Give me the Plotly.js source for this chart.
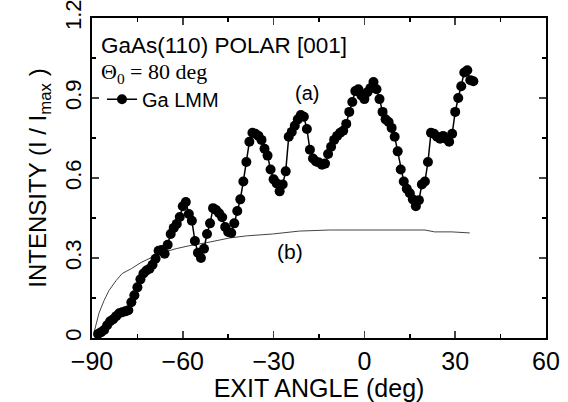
<!DOCTYPE html>
<html>
<head>
<meta charset="utf-8">
<script src="https://cdn.plot.ly/plotly-3.0.1.min.js"></script>
<style>html,body{margin:0;padding:0;background:#fff;}#chart{width:568px;height:402px;}</style>
</head>
<body>
<div id="chart"></div>
<script>
// Series (a): Ga LMM measured intensity, exit angle in degrees
const angleA = [-88,-87,-86,-85,-84,-83,-82,-81,-80,-79,-78,-77,-76,-75,-74,-73,-72,-71,-70,-69,-68,-67,-66,-65,
  -64,-63,-62,-61,-60,-59,-58,-57,-56,-55,-54,-53,-52,-51,-50,-49,-48,-47,-46,-45,-44,
  -43,-42,-41,-40,-39,-38,-37,-36,-35,-34,-33,-32,-31,-30,-29,-28,-27,-26,-25,
  -24,-23,-22,-21,-20,-19,-18,-17,-16,-15,-14,-13,-12,-11,-10,-9,-8,-7,-6,-5,-4,-3,
  -2,-1,0,1,2,3,4,5,6,7,8,9,10,11,12,13,14,15,16,17,18,19,20,21,22,23,24,25,26,27,28,29,30,31,32,33,34,35,36];
const intensityA = [0.015,0.022,0.03,0.048,0.063,0.07,0.082,0.093,0.097,0.10,0.104,0.134,0.16,0.19,0.22,0.242,0.253,0.26,0.275,0.297,0.327,0.33,0.316,0.35,
  0.39,0.413,0.428,0.454,0.494,0.51,0.465,0.44,0.364,0.32,0.30,0.335,0.39,0.43,0.487,0.48,0.468,0.453,0.416,0.398,0.394,
  0.43,0.476,0.52,0.587,0.66,0.736,0.77,0.766,0.758,0.743,0.71,0.684,0.632,0.595,0.58,0.55,0.576,0.625,0.755,
  0.773,0.796,0.82,0.836,0.83,0.784,0.706,0.673,0.662,0.658,0.65,0.654,0.69,0.717,0.743,0.758,0.77,0.777,0.803,0.848,0.885,0.926,
  0.933,0.91,0.896,0.922,0.937,0.96,0.933,0.896,0.848,0.82,0.81,0.788,0.755,0.70,0.632,0.587,0.56,0.543,0.52,0.494,0.517,0.576,0.587,0.66,0.77,0.766,0.755,0.747,0.758,0.747,0.736,0.766,0.848,0.90,0.944,0.996,1.004,0.967,0.963];

// Series (b): calculated curve
const angleB = [-89.3,-87.7,-86,-84.4,-82,-80,-77,-73.8,-70.5,-66.8,-62.2,-57.9,-52.3,-48,-44.6,-39,-30.4,-21.5,-11.5,20,23.2,28.9,34.8];
const intensityB = [0.022,0.093,0.141,0.178,0.216,0.242,0.26,0.283,0.301,0.32,0.335,0.346,0.357,0.368,0.375,0.383,0.39,0.401,0.405,0.405,0.398,0.398,0.394];

const xTicks = [-90,-60,-30,0,30,60];
const yTicks = [0,0.3,0.6,0.9,1.2];
const yTickText = ['0','0.3','0.6','0.9','1.2'];

const traces = [
  {x: angleB, y: intensityB, mode: 'lines', line: {color: '#444', width: 1}, showlegend: false, hoverinfo: 'skip'},
  {x: angleA, y: intensityA, mode: 'lines+markers', name: 'Ga LMM',
   line: {color: '#000', width: 1.5}, marker: {color: '#000', size: 10}}
];

const font = 'Liberation Sans, Arial, sans-serif';
const layout = {
  width: 568, height: 402,
  margin: {l: 92, r: 22, t: 18, b: 64},
  paper_bgcolor: '#fff', plot_bgcolor: '#fff',
  font: {family: font, color: '#000'},
  showlegend: true,
  legend: {x: 0.022, xanchor: 'left', y: 0.746, yanchor: 'middle', bgcolor: 'rgba(0,0,0,0)',
    font: {size: 20, family: font}, itemwidth: 30},
  xaxis: {range: [-90, 60], tickvals: xTicks, ticks: 'inside', ticklen: 7, tickwidth: 1.5,
    showline: true, linewidth: 2, linecolor: '#000', mirror: 'ticks', showgrid: false, zeroline: false,
    tickfont: {size: 25, family: font}, ticklabeloverflow: 'allow',
    minor: {dtick: 15, ticks: 'inside', ticklen: 4, tickcolor: '#000', showgrid: false},
    title: {text: 'EXIT ANGLE (deg)', font: {size: 25, family: font}, standoff: 2}},
  yaxis: {range: [0, 1.2001], tickvals: yTicks, ticktext: yTickText, ticks: 'inside', ticklen: 7, tickwidth: 1.5,
    showline: true, linewidth: 2, linecolor: '#000', mirror: 'ticks', showgrid: false, zeroline: false,
    tickangle: -90, tickfont: {size: 22, family: font}, ticklabeloverflow: 'allow',
    minor: {dtick: 0.15, ticks: 'inside', ticklen: 4, tickcolor: '#000', showgrid: false},
    title: {text: 'INTENSITY (I / I<sub>max</sub> )', font: {size: 24, family: font}, standoff: 8}},
  annotations: [
    {xref: 'paper', yref: 'paper', x: 0.015, y: 0.915, xanchor: 'left', yanchor: 'middle', showarrow: false,
     text: 'GaAs(110) POLAR [001]', font: {size: 22.5, family: font}},
    {xref: 'paper', yref: 'paper', x: 0.015, y: 0.827, xanchor: 'left', yanchor: 'middle', showarrow: false,
     text: 'Θ<sub>0</sub> = 80 deg', font: {size: 22, family: 'Liberation Serif, Times New Roman, serif'}},
    {xref: 'x', yref: 'y', x: -19, y: 0.92, showarrow: false, text: '(a)', font: {size: 20, family: font}},
    {xref: 'x', yref: 'y', x: -24.5, y: 0.325, showarrow: false, text: '(b)', font: {size: 21, family: font}}
  ]
};

Plotly.newPlot('chart', traces, layout, {staticPlot: true, displayModeBar: false});
</script>
</body>
</html>
